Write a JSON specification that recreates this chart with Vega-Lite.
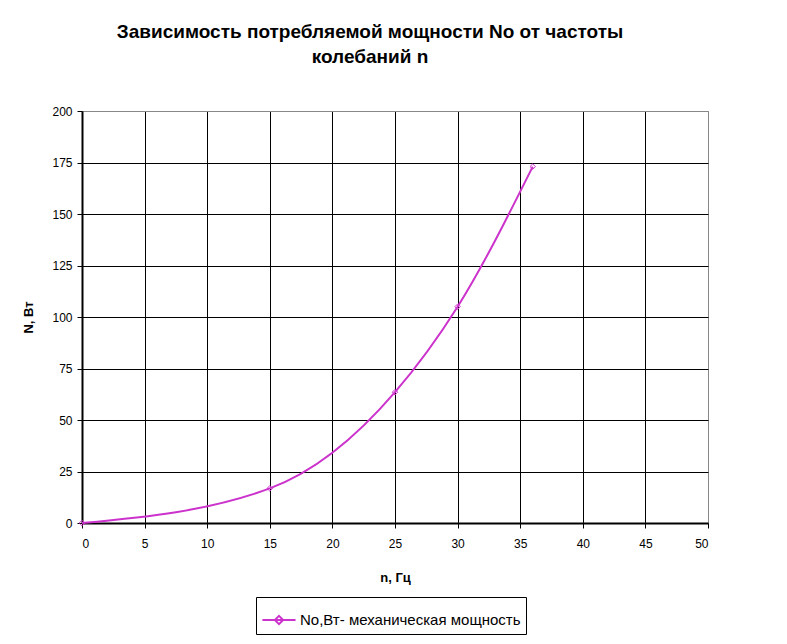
{
  "$schema": "https://vega.github.io/schema/vega-lite/v6.json",
  "width": 626,
  "height": 412,
  "autosize": "none",
  "padding": {"left": 82, "top": 111, "right": 79, "bottom": 121},
  "background": "white",
  "title": {
    "text": ["Зависимость потребляемой мощности No от частоты", "колебаний n"],
    "font": "Liberation Sans",
    "fontSize": 19,
    "fontWeight": "bold",
    "color": "black",
    "anchor": "middle",
    "dx": -25,
    "offset": 38,
    "lineHeight": 25
  },
  "data": {
    "values": [
      {"n": 0, "N": 0, "s": "No,Вт- механическая мощность"},
      {"n": 15, "N": 16.8, "s": "No,Вт- механическая мощность"},
      {"n": 25, "N": 63.5, "s": "No,Вт- механическая мощность"},
      {"n": 30, "N": 105, "s": "No,Вт- механическая мощность"},
      {"n": 36, "N": 173, "s": "No,Вт- механическая мощность"}
    ]
  },
  "mark": {
    "type": "line",
    "interpolate": "monotone",
    "strokeWidth": 2,
    "point": {"shape": "diamond", "filled": false, "size": 30, "strokeWidth": 1}
  },
  "encoding": {
    "x": {
      "field": "n",
      "type": "quantitative",
      "scale": {"domain": [0, 50], "nice": false},
      "axis": {
        "values": [0, 5, 10, 15, 20, 25, 30, 35, 40, 45, 50],
        "title": "n, Гц",
        "titlePadding": 22,
        "gridColor": {"condition": {"test": "datum.value == 50", "value": "#888888"}, "value": "black"},
        "labelPadding": 10
      }
    },
    "y": {
      "field": "N",
      "type": "quantitative",
      "scale": {"domain": [0, 200], "nice": false},
      "axis": {
        "values": [0, 25, 50, 75, 100, 125, 150, 175, 200],
        "title": "N, Вт",
        "titlePadding": 16,
        "gridColor": {"condition": {"test": "datum.value == 200", "value": "#888888"}, "value": "black"},
        "labelPadding": 5
      }
    },
    "color": {
      "field": "s",
      "type": "nominal",
      "scale": {"range": ["#CC33CC"]},
      "legend": {
        "title": null,
        "orient": "none",
        "legendX": 174,
        "legendY": 486,
        "strokeColor": "black",
        "padding": 5,
        "labelLimit": 0,
        "labelOffset": 3,
        "symbolType": "M-1,0H1M0,-0.25L0.25,0L0,0.25L-0.25,0Z",
        "symbolSize": 1100,
        "symbolStrokeWidth": 2,
        "labelFontSize": 15,
        "labelFont": "Liberation Sans",
        "labelColor": "black"
      }
    }
  },
  "config": {
    "view": {"stroke": "#888888", "strokeWidth": 1},
    "axis": {
      "grid": true,
      "gridOpacity": 1,
      "gridWidth": 1,
      "domainColor": "black",
      "domainWidth": 2,
      "tickColor": "black",
      "tickSize": 5,
      "tickWidth": 1,
      "labelFont": "Liberation Sans",
      "labelFontSize": 12,
      "labelColor": "black",
      "titleFont": "Liberation Sans",
      "titleFontSize": 13,
      "titleFontWeight": "bold",
      "titleColor": "black"
    }
  }
}
